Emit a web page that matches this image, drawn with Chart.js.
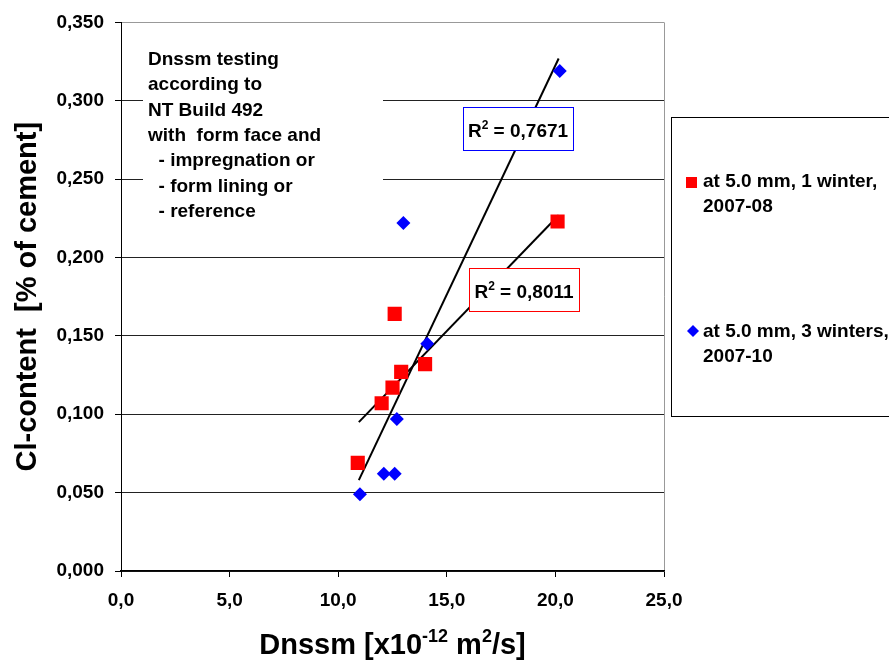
<!DOCTYPE html>
<html>
<head>
<meta charset="utf-8">
<script src="https://cdn.jsdelivr.net/npm/chart.js@4"></script>
<style>
  body { margin: 0; background: #fff; }
  canvas { display: block; }
</style>
</head>
<body>
<canvas id="myChart" width="889" height="664"></canvas>
<script>
const FONT = '"Liberation Sans", Arial, sans-serif';

// at 5.0 mm, 1 winter, 2007-08
const redX = [10.9, 12.0, 12.5, 12.9, 12.6, 14.0, 20.1];
const redY = [0.069, 0.107, 0.117, 0.127, 0.164, 0.132, 0.223];

// at 5.0 mm, 3 winters, 2007-10
const blueX = [11.0, 12.1, 12.6, 12.7, 14.1, 13.0, 20.2];
const blueY = [0.049, 0.062, 0.062, 0.097, 0.145, 0.222, 0.319];

// linear trend lines (end points)
const redTrendX = [10.95, 20.15];
const redTrendY = [0.095, 0.227];
const blueTrendX = [10.95, 20.15];
const blueTrendY = [0.058, 0.327];

const redLabel = ["at 5.0 mm, 1 winter,", "2007-08"];
const blueLabel = ["at 5.0 mm, 3 winters,", "2007-10"];
const redR2 = "0,8011";
const blueR2 = "0,7671";

const noteLines = [
  "Dnssm testing",
  "according to",
  "NT Build 492",
  "with  form face and",
  "  - impregnation or",
  "  - form lining or",
  "  - reference",
];

function pts(xs, ys) {
  return xs.map((x, i) => ({ x: x, y: ys[i] }));
}

// draws a run of [text, isSuperscript] pieces, returns width
function drawRich(ctx, parts, x, y, size, measureOnly) {
  let w = 0;
  parts.forEach(([t, sup]) => {
    const s = sup ? Math.round(size * 0.62) : size;
    ctx.font = "bold " + s + "px " + FONT;
    if (!measureOnly) ctx.fillText(t, x + w, sup ? y - size * 0.42 : y);
    w += ctx.measureText(t).width;
  });
  return w;
}

function r2Box(ctx, rect, color, value) {
  ctx.fillStyle = "#fff";
  ctx.fillRect(rect[0], rect[1], rect[2], rect[3]);
  ctx.strokeStyle = color;
  ctx.lineWidth = 1;
  ctx.strokeRect(rect[0] + 0.5, rect[1] + 0.5, rect[2], rect[3]);
  ctx.fillStyle = "#000";
  const parts = [["R", false], ["2", true], [" = " + value, false]];
  const w = drawRich(ctx, parts, 0, 0, 19, true);
  drawRich(ctx, parts, rect[0] + (rect[2] - w) / 2, rect[1] + 30, 19, false);
}

const overlay = {
  id: "overlay",
  beforeDatasetsDraw(chart) {
    const ctx = chart.ctx;
    ctx.save();
    // note text box sits over the grid
    ctx.fillStyle = "#fff";
    ctx.fillRect(143, 38, 240, 194);
    ctx.fillStyle = "#000";
    ctx.font = "bold 19px " + FONT;
    ctx.textBaseline = "alphabetic";
    noteLines.forEach((t, i) => ctx.fillText(t, 148, 65 + i * 25.3));
    ctx.restore();
  },
  afterDatasetsDraw(chart) {
    const ctx = chart.ctx;
    ctx.save();
    ctx.textBaseline = "alphabetic";
    r2Box(ctx, [463, 107, 110, 43], "#0000ff", blueR2);
    r2Box(ctx, [469, 268, 110, 43], "#ff0000", redR2);

    // legend box
    ctx.strokeStyle = "#000";
    ctx.lineWidth = 1;
    ctx.strokeRect(671.5, 117.5, 240, 299);
    ctx.fillStyle = "#ff0000";
    ctx.fillRect(686, 177, 11, 11);
    ctx.fillStyle = "#0000ff";
    ctx.beginPath();
    ctx.moveTo(693, 325);
    ctx.lineTo(699, 331);
    ctx.lineTo(693, 337);
    ctx.lineTo(687, 331);
    ctx.closePath();
    ctx.fill();
    ctx.fillStyle = "#000";
    ctx.font = "bold 19px " + FONT;
    ctx.fillText(redLabel[0], 703, 187);
    ctx.fillText(redLabel[1], 703, 212);
    ctx.fillText(blueLabel[0], 703, 337);
    ctx.fillText(blueLabel[1], 703, 362);

    // x axis title with superscripts
    const a = chart.chartArea;
    const parts = [["Dnssm [x10", false], ["-12", true], [" m", false], ["2", true], ["/s]", false]];
    const w = drawRich(ctx, parts, 0, 0, 29, true);
    drawRich(ctx, parts, (a.left + a.right) / 2 - w / 2, 654, 29, false);
    ctx.restore();
  },
};

const ctx = document.getElementById("myChart").getContext("2d");

const config = {
  type: "scatter",
  data: {
    datasets: [
      {
        label: redLabel.join(" "),
        data: pts(redX, redY),
        pointStyle: "rect",
        pointRadius: 10,
        backgroundColor: "#ff0000",
        borderWidth: 0,
      },
      {
        label: blueLabel.join(" "),
        data: pts(blueX, blueY),
        pointStyle: "rectRot",
        pointRadius: 7,
        backgroundColor: "#0000ff",
        borderWidth: 0,
      },
      {
        data: pts(redTrendX, redTrendY),
        showLine: true,
        pointRadius: 0,
        borderColor: "#000",
        borderWidth: 2,
      },
      {
        data: pts(blueTrendX, blueTrendY),
        showLine: true,
        pointRadius: 0,
        borderColor: "#000",
        borderWidth: 2,
      },
    ],
  },
  options: {
    responsive: false,
    animation: false,
    layout: { padding: { top: 18, right: 225, left: 0, bottom: 0 } },
    plugins: {
      legend: { display: false },
      tooltip: { enabled: false },
    },
    scales: {
      x: {
        type: "linear",
        min: 0,
        max: 25,
        afterFit: (scale) => {
          scale.height = 93;
        },
        ticks: {
          stepSize: 5,
          padding: 12,
          color: "#000",
          font: { family: FONT, size: 19, weight: "bold" },
          callback: (v) => v.toFixed(1).replace(".", ","),
        },
        grid: {
          color: (c) => (c.index === 5 ? "#999" : "rgba(0,0,0,0)"),
          tickColor: "#000",
          tickLength: 6,
        },
        border: { color: "#000", width: 1.5 },
      },
      y: {
        min: 0,
        max: 0.35,
        afterFit: (scale) => {
          scale.width = 121;
        },
        title: {
          display: true,
          text: "Cl-content  [% of cement]",
          color: "#000",
          font: { family: FONT, size: 29, weight: "bold" },
          padding: { top: 11, bottom: 0 },
        },
        ticks: {
          stepSize: 0.05,
          padding: 11,
          color: "#000",
          font: { family: FONT, size: 19, weight: "bold" },
          callback: (v) => v.toFixed(3).replace(".", ","),
        },
        grid: {
          color: (c) => (c.index === 7 ? "#999" : "#222"),
          tickColor: "#000",
          tickLength: 6,
        },
        border: { color: "#000", width: 1 },
      },
    },
  },
  plugins: [overlay],
};

const myChart = new Chart(ctx, config);
</script>
</body>
</html>
